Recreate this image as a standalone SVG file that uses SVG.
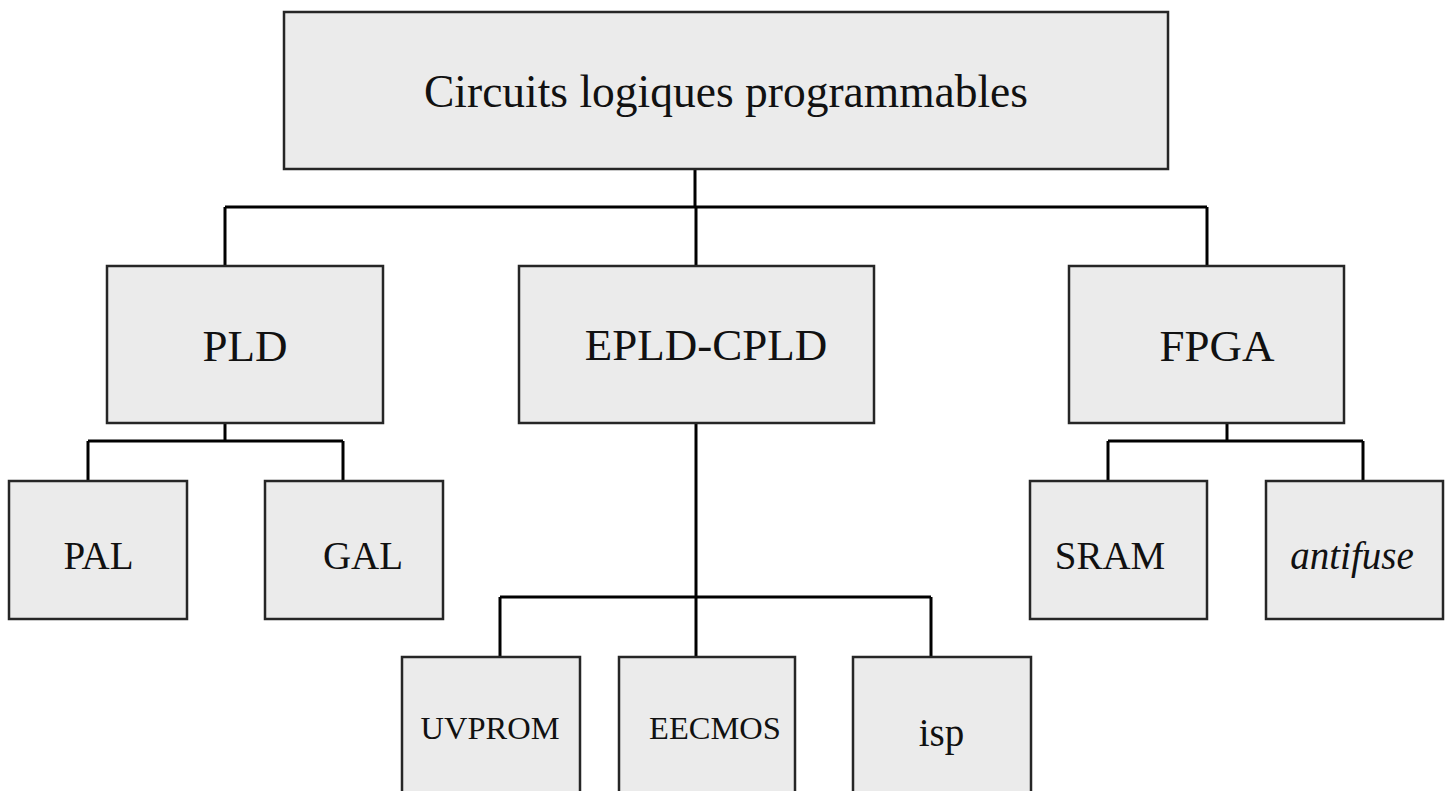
<svg xmlns="http://www.w3.org/2000/svg" width="1452" height="791" viewBox="0 0 1452 791">
  <style>
    .box { fill: #ebebeb; stroke: #262626; stroke-width: 2.5; }
    .lbl { font-family: "Liberation Serif", "Times New Roman", serif; fill: #111; text-anchor: middle; }
    .l0 { font-size: 45.5px; }
    .l1 { font-size: 45px; }
    .l2 { font-size: 39px; }
    .l3 { font-size: 32.5px; }
    .it { font-style: italic; }
    .wire { fill: none; stroke: #000; stroke-width: 3; stroke-linejoin: miter; }
  </style>
  <rect width="1452" height="791" fill="#fff"/>

  <!-- connectors -->
  <g id="connectors">
    <path class="wire" d="M695,169 V207 M225,207 H1207 M225,207 V266 M696,207 V266 M1207,207 V266"/>
    <path class="wire" d="M225,423 V441 M88,441 H343 M88,441 V481 M343,441 V481"/>
    <path class="wire" d="M1227,423 V441 M1108,441 H1363 M1108,441 V481 M1363,441 V481"/>
    <path class="wire" d="M696,423 V597 M500,597 H931 M500,597 V657 M696,597 V657 M931,597 V657"/>
  </g>

  <!-- root -->
  <g id="root">
    <rect class="box" x="284" y="12" width="884" height="157"/>
    <text class="lbl l0" x="726" y="107">Circuits logiques programmables</text>
  </g>

  <!-- first level -->
  <g id="pld">
    <rect class="box" x="107" y="266" width="276" height="157"/>
    <text class="lbl l1" x="245" y="361">PLD</text>
  </g>
  <g id="epld-cpld">
    <rect class="box" x="519" y="266" width="355" height="157"/>
    <text class="lbl l1" x="706" y="360">EPLD-CPLD</text>
  </g>
  <g id="fpga">
    <rect class="box" x="1069" y="266" width="275" height="157"/>
    <text class="lbl l1" x="1217" y="361">FPGA</text>
  </g>

  <!-- second level -->
  <g id="pal">
    <rect class="box" x="9" y="481" width="178" height="138"/>
    <text class="lbl l2" x="98.5" y="569">PAL</text>
  </g>
  <g id="gal">
    <rect class="box" x="265" y="481" width="178" height="138"/>
    <text class="lbl l2" x="363" y="569">GAL</text>
  </g>
  <g id="sram">
    <rect class="box" x="1030" y="481" width="177" height="138"/>
    <text class="lbl l2" x="1110" y="569">SRAM</text>
  </g>
  <g id="antifuse">
    <rect class="box" x="1266" y="481" width="177" height="138"/>
    <text class="lbl l2 it" x="1352" y="569">antifuse</text>
  </g>

  <!-- third level (boxes run past the bottom edge) -->
  <g id="uvprom">
    <rect class="box" x="402" y="657" width="178" height="160"/>
    <text class="lbl l3" x="490" y="739">UVPROM</text>
  </g>
  <g id="eecmos">
    <rect class="box" x="619" y="657" width="176" height="160"/>
    <text class="lbl l3" x="715" y="739">EECMOS</text>
  </g>
  <g id="isp">
    <rect class="box" x="853" y="657" width="178" height="160"/>
    <text class="lbl l2" x="941.5" y="746">isp</text>
  </g>
</svg>
